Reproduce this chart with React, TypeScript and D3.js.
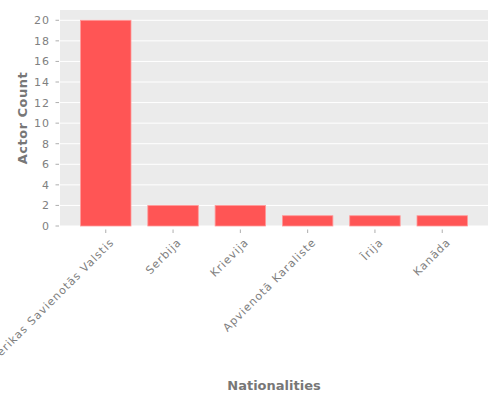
import React from "react";
import * as d3 from "d3";

const categories = ["Amerikas Savienotās Valstis", "Serbija", "Krievija", "Apvienotā Karaliste", "Īrija", "Kanāda"];
const counts = [20, 2, 2, 1, 1, 1];
const yTicks = [0, 2, 4, 6, 8, 10, 12, 14, 16, 18, 20];

const W = 500, H = 400;
const left = 60, right = 488, top = 10, bottom = 226;
const font = "DejaVu Sans, sans-serif";

export default function App() {
  const x = d3.scaleLinear().domain([-0.68, categories.length - 1 + 0.68]).range([left, right]);
  const y = d3.scaleLinear().domain([0, 21]).range([bottom, top]);
  const bw = x(0.75) - x(0);
  return (
    <svg width={W} height={H} style={{ position: "absolute", left: 0, top: 0, background: "#fff" }}>
      <rect x={left} y={top} width={right - left} height={bottom - top} fill="#EBEBEB" />
      {yTicks.map((t) => (
        <g key={t}>
          <line x1={left} x2={right} y1={y(t)} y2={y(t)} stroke="#fff" strokeWidth={1} />
          <line x1={left - 4.5} x2={left - 1} y1={y(t)} y2={y(t)} stroke="#999" strokeWidth={0.8} />
          <text x={left - 10} y={y(t)} dy="0.36em" textAnchor="end" fontFamily={font} fontSize={11} letterSpacing={1} fill="#808080">{t}</text>
        </g>
      ))}
      {categories.map((c, i) => (
        <g key={c}>
          <rect x={x(i) - bw / 2} y={y(counts[i])} width={bw} height={y(0) - y(counts[i])} fill="#FF5555" stroke="#FF9A9A" strokeWidth={0.8} />
          <line x1={x(i)} x2={x(i)} y1={bottom + 3.5} y2={bottom + 7} stroke="#999" strokeWidth={0.8} />
          <text transform={`translate(${x(i) + 9},${bottom + 17}) rotate(-45)`} textAnchor="end" fontFamily={font} fontSize={11} letterSpacing={1} fill="#808080">{c}</text>
        </g>
      ))}
      <text transform={`translate(27,${(top + bottom) / 2}) rotate(-90)`} textAnchor="middle" fontFamily={font} fontSize={13} letterSpacing={0.5} fontWeight="bold" fill="#777">Actor Count</text>
      <text x={(left + right) / 2} y={390} textAnchor="middle" fontFamily={font} fontSize={13} fontWeight="bold" fill="#777">Nationalities</text>
    </svg>
  );
}
